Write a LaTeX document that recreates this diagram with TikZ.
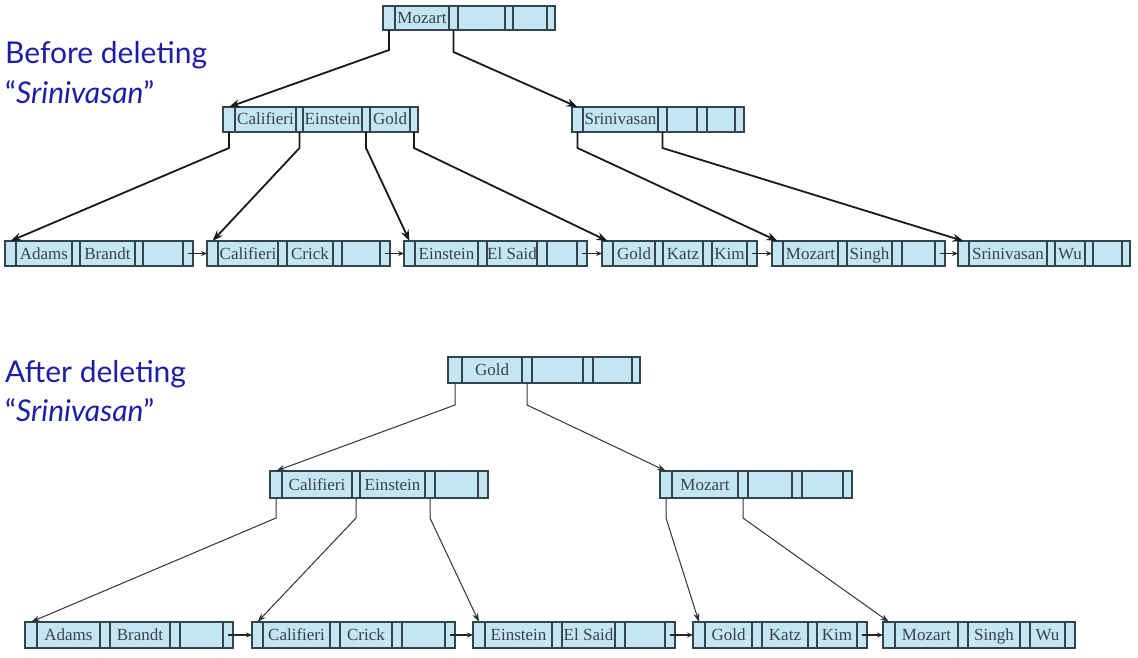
\documentclass[tikz,border=0pt]{standalone}
\usepackage{fontspec}
\setmainfont{Liberation Serif}
\newfontfamily\labelfont{Lato}
\usetikzlibrary{arrows.meta}
\definecolor{nodefill}{RGB}{196,230,242}
\definecolor{nodeline}{RGB}{50,68,78}
\definecolor{keytext}{RGB}{55,65,78}
\definecolor{labelblue}{RGB}{30,30,165}
\tikzset{
  slot/.style={draw=nodeline, fill=nodefill, line width=1.2pt, inner sep=0pt, outer sep=0pt,
    text=keytext, font=\fontsize{17}{19}\selectfont, text height=11pt, text depth=0pt, anchor=center},
  ptrA/.style={line width=1.8pt, draw=black!90, -{Stealth[length=11pt,width=8pt]}},
  ptrB/.style={line width=1pt, draw=black!80, -{Stealth[length=9pt,width=6pt]}},
  nextA/.style={line width=1.2pt, draw=black!85, -{Stealth[length=6pt,width=5pt]}},
  title/.style={font=\labelfont\fontsize{30}{33}\selectfont, text=labelblue, anchor=base west, inner sep=0pt},
}
\newcommand\bslot[4]{%
  \pgfmathsetmacro\bw{#3-#2}%
  \pgfmathsetmacro\bm{(#3+#2)/2}%
  \node[slot, minimum width=\bw pt, minimum height=\bh pt] (\bname-#1) at (\bm,\bym) {#4};}
\def\bparsex#1/#2/#3/#4/#5/#6/#7/#8\relax{\def\bxa{#1}\def\bxb{#2}\def\bxc{#3}\def\bxd{#4}\def\bxe{#5}\def\bxf{#6}\def\bxg{#7}\def\bxh{#8}}
\def\bparsek#1/#2/#3\relax{\def\bka{#1}\def\bkb{#2}\def\bkc{#3}}
\newcommand\bnode[5]{%
  \def\bname{#1}%
  \pgfmathsetmacro\bh{#3-#2}%
  \pgfmathsetmacro\bym{(#2+#3)/2}%
  \bparsex#4\relax
  \bparsek#5\relax
  \bslot{p1}{\bxa}{\bxb}{}%
  \bslot{k1}{\bxb}{\bxc}{\bka}%
  \bslot{p2}{\bxc}{\bxd}{}%
  \bslot{k2}{\bxd}{\bxe}{\bkb}%
  \bslot{p3}{\bxe}{\bxf}{}%
  \bslot{k3}{\bxf}{\bxg}{\bkc}%
  \bslot{p4}{\bxg}{\bxh}{}%
}
\begin{document}
\begin{tikzpicture}[x=1pt,y=-1pt]
\useasboundingbox (0,0) rectangle (1138,658);
% labels
\node[title] (t1) at (5,64) {Before deleting};
\node[title] (t2) at (5,104) {“\textit{Srinivasan}”};
\node[title] (t3) at (5,382) {After deleting};
\node[title] (t4) at (5,421) {“\textit{Srinivasan}”};
% ---------- before ----------
\bnode{rA}{6}{30}{383/395/449/458/505/513/547/555}{Mozart//}
\bnode{iAL}{107}{132}{223/235/296/303/362/370/410/418}{Califieri/Einstein/Gold}
\bnode{iAR}{107}{132}{572/583/658/667/697/707/735/744}{Srinivasan//}
\bnode{lA1}{241}{266}{5/16/72/80/135/143/183/193}{Adams/Brandt/}
\bnode{lA2}{241}{266}{207/218/278/287/333/342/380/390}{Califieri/Crick/}
\bnode{lA3}{241}{266}{404/415/478/487/537/547/577/587}{Einstein/El Said/}
\bnode{lA4}{241}{266}{602/613/655/663/703/712/747/757}{Gold/Katz/Kim}
\bnode{lA5}{241}{266}{772/783/838/847/892/902/935/945}{Mozart/Singh/}
\bnode{lA6}{241}{266}{958/969/1047/1055/1085/1093/1122/1130}{Srinivasan/Wu/}
\draw[ptrA] (rA-p1.south) -- ++(0,20) -- (iAL-p1.north);
\draw[ptrA] (rA-p2.south) -- ++(0,22) -- (iAR-p1.north);
\draw[ptrA] (iAL-p1.south) -- ++(0,16) -- (lA1-p1.north);
\draw[ptrA] (iAL-p2.south) -- ++(0,16) -- (lA2-p1.north);
\draw[ptrA] (iAL-p3.south) -- ++(0,16) -- (lA3-p1.north);
\draw[ptrA] (iAL-p4.south) -- ++(0,16) -- (lA4-p1.north);
\draw[ptrA] (iAR-p1.south) -- ++(0,16) -- (lA5-p1.north);
\draw[ptrA] (iAR-p2.south) -- ++(0,16) -- (lA6-p1.north);
\draw[nextA] (lA1-p4.center) -- (lA2-p1.west);
\draw[nextA] (lA2-p4.center) -- (lA3-p1.west);
\draw[nextA] (lA3-p4.center) -- (lA4-p1.west);
\draw[nextA] (lA4-p4.center) -- (lA5-p1.west);
\draw[nextA] (lA5-p4.center) -- (lA6-p1.west);
% ---------- after ----------
\bnode{rB}{357}{383}{448/462/522/532/583/593/632/640}{Gold//}
\bnode{iBL}{471}{498}{270/282/352/360/425/435/478/488}{Califieri/Einstein/}
\bnode{iBR}{471}{498}{660/672/738/748/792/802/843/852}{Mozart//}
\bnode{lB1}{622}{648}{25/37/100/110/170/180/223/233}{Adams/Brandt/}
\bnode{lB2}{622}{648}{252/263/330/340/392/402/445/455}{Califieri/Crick/}
\bnode{lB3}{622}{648}{473/485/552/562/615/625/665/675}{Einstein/El Said/}
\bnode{lB4}{622}{648}{693/705/752/762/808/817/857/867}{Gold/Katz/Kim}
\bnode{lB5}{622}{648}{883/895/958/968/1020/1030/1065/1075}{Mozart/Singh/Wu}
\draw[ptrB] (rB-p1.south) -- ++(0,22) -- (iBL-p1.north);
\draw[ptrB] (rB-p2.south) -- ++(0,22) -- (iBR-p1.north);
\draw[ptrB] (iBL-p1.south) -- ++(0,20) -- (lB1-p1.north);
\draw[ptrB] (iBL-p2.south) -- ++(0,20) -- (lB2-p1.north);
\draw[ptrB] (iBL-p3.south) -- ++(0,20) -- (lB3-p1.north);
\draw[ptrB] (iBR-p1.south) -- ++(0,20) -- (lB4-p1.north);
\draw[ptrB] (iBR-p2.south) -- ++(0,20) -- (lB5-p1.north);
\draw[nextA] (lB1-p4.center) -- (lB2-p1.west);
\draw[nextA] (lB2-p4.center) -- (lB3-p1.west);
\draw[nextA] (lB3-p4.center) -- (lB4-p1.west);
\draw[nextA] (lB4-p4.center) -- (lB5-p1.west);
\end{tikzpicture}
\end{document}
